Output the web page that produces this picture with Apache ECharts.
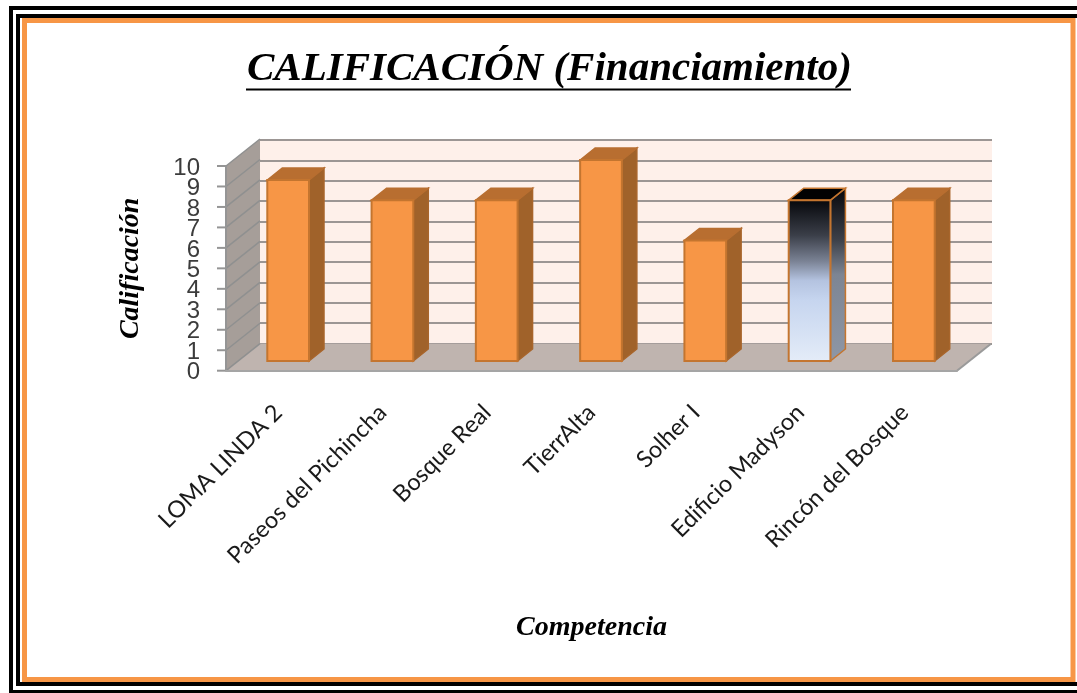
<!DOCTYPE html>
<html>
<head>
<meta charset="utf-8">
<style>html,body{margin:0;padding:0;background:#fff}#c{width:1077px;height:693px}</style>
<script src="https://cdn.jsdelivr.net/npm/echarts@6/dist/echarts.min.js"></script>
</head>
<body>
<div id="c"></div>
<script>
var categories = ['LOMA LINDA 2','Paseos del Pichincha','Bosque Real','TierrAlta','Solher I','Edificio Madyson','Rincón del Bosque'];
var scores = [9,8,8,10,6,8,8];
var yTicks = [0,1,2,3,4,5,6,7,8,9,10];
var highlighted = 'Edificio Madyson';
var titleText = 'CALIFICACIÓN (Financiamiento)';
var xName = 'Competencia';
var yName = 'Calificación';

var WALL_DX = 34, WALL_DY = 27, BAR_DX = 15, BAR_DY = 12, TICK = 9, LABEL_GAP = 26, LABEL_DY = 2;
var chart = echarts.init(document.getElementById('c'), null, {renderer:'canvas'});

function grad(stops){ return new echarts.graphic.LinearGradient(0,0,0,1,stops); }
function poly(points, fill, stroke, lw){
  return {type:'polygon', shape:{points:points},
    style:{fill:fill, stroke:stroke||null, lineWidth:lw||0}};
}
function line(x1,y1,x2,y2,color,w){
  return {type:'line', shape:{x1:x1,y1:y1,x2:x2,y2:y2}, style:{stroke:color,lineWidth:w,fill:null}};
}

function renderWalls(params, api){
  var r = params.coordSys;
  var l = r.x, b = r.y + r.height, t = r.y, e = r.x + r.width;
  var kids = [];
  kids.push(poly([[l,b],[l+WALL_DX,b-WALL_DY],[e+WALL_DX,b-WALL_DY],[e,b]], '#bfb4af'));
  kids.push(poly([[l,t],[l+WALL_DX,t-WALL_DY],[l+WALL_DX,b-WALL_DY],[l,b]], '#a69e99'));
  yTicks.forEach(function(v){
    var y = api.coord([0,v])[1];
    kids.push(line(l,y,l+WALL_DX,y-WALL_DY,'#8f9090',1.5));
    kids.push(line(l-TICK,y,l,y,'#959595',2));
    kids.push({type:'text', x:l-LABEL_GAP, y:y+LABEL_DY,
      style:{text:String(v), align:'right', verticalAlign:'middle',
             fontFamily:'Liberation Sans', fontSize:24, fill:'#3c3c3c'}});
  });
  kids.push(line(l,t,l,b,'#959595',2));
  kids.push(line(e,b,e+WALL_DX,b-WALL_DY,'#9a9a9a',2));
  return {type:'group', children:kids};
}

function renderBar(params, api){
  var c = api.value(0), v = api.value(1);
  var top = api.coord([c,v]), base = api.coord([c,0]);
  var w = api.size([1,0])[0]*0.4;
  var x0 = top[0]-w/2, x1 = top[0]+w/2, yT = top[1], yB = base[1];
  var isH = categories[c] === highlighted;
  var front = isH ? grad([{offset:0,color:'#05060a'},{offset:.22,color:'#3a3e48'},{offset:.38,color:'#7a8294'},{offset:.5,color:'#b4c3e0'},{offset:.62,color:'#c6d5ef'},{offset:1,color:'#e4ecf8'}]) : '#f79646';
  var side = isH ? grad([{offset:0,color:'#05060a'},{offset:.3,color:'#3c4049'},{offset:.5,color:'#7d8593'},{offset:1,color:'#8e97a6'}]) : '#a0622a';
  var cap = isH ? '#020202' : '#b86e30';
  var sideStroke = isH ? '#c4752f' : '#a8652b';
  return {type:'group', children:[
    poly([[x1,yT],[x1+BAR_DX,yT-BAR_DY],[x1+BAR_DX,yB-BAR_DY],[x1,yB]], side, sideStroke, 1.5),
    poly([[x0,yT],[x0+BAR_DX,yT-BAR_DY],[x1+BAR_DX,yT-BAR_DY],[x1,yT]], cap, isH?sideStroke:'#b86e30', 1.5),
    poly([[x0,yT],[x1,yT],[x1,yB],[x0,yB]], front, '#c4752f', 2)
  ]};
}

var frame = [
  {type:'rect', shape:{x:11,y:8,width:1075,height:684}, style:{fill:null,stroke:'#000',lineWidth:4}},
  {type:'rect', shape:{x:18,y:16,width:1068,height:668}, style:{fill:'#fff',stroke:'#000',lineWidth:4}},
  {type:'rect', shape:{x:24.5,y:20.5,width:1048.5,height:659}, style:{fill:null,stroke:'#f79646',lineWidth:5}},
  {type:'rect', shape:{x:246,y:88.5,width:605,height:2}, style:{fill:'#000'}, z:5}
];

chart.setOption({
  animation:false,
  backgroundColor:'#fff',
  graphic:{elements:frame.map(function(g){ g.z = g.z||-1; g.silent=true; return g; })},
  title:{text:titleText, left:247, top:49, padding:0, itemGap:0,
    textStyle:{fontFamily:'Liberation Serif',fontStyle:'italic',fontWeight:'bold',fontSize:41,color:'#000'}},
  grid:[
    {left:226,top:166,width:731,height:204.7},
    {left:260,top:140,width:732,height:203.5,show:true,backgroundColor:'#fef0ea',borderWidth:0},
    {left:236,top:160,width:730,height:201}
  ],
  xAxis:[
    {type:'category',gridIndex:0,data:categories,z:3,
     name:xName,nameLocation:'middle',nameGap:243,
     nameTextStyle:{fontFamily:'Liberation Serif',fontStyle:'italic',fontWeight:'bold',fontSize:28,color:'#000'},
     axisLine:{show:true,lineStyle:{color:'#a5a5a5',width:2}},axisTick:{show:false},splitLine:{show:false},
     axisLabel:{rotate:45,interval:0,margin:38,fontFamily:'Lato',fontSize:23.5,color:'#1a1a1a'}},
    {type:'category',gridIndex:1,data:categories,show:false},
    {type:'category',gridIndex:2,data:categories,show:false}
  ],
  yAxis:[
    {type:'value',gridIndex:0,min:0,max:10,interval:1,z:3,
     name:yName,nameLocation:'middle',nameGap:81,nameRotate:90,
     nameTextStyle:{fontFamily:'Liberation Serif',fontStyle:'italic',fontWeight:'bold',fontSize:28,color:'#000'},
     axisLine:{show:false},
     axisTick:{show:false},
     splitLine:{show:false},
     axisLabel:{show:false}},
    {type:'value',gridIndex:1,min:0,max:10,interval:1,
     axisLine:{show:false},axisTick:{show:false},axisLabel:{show:false},
     splitLine:{show:true,lineStyle:{color:'#9c9694',width:2}}},
    {type:'value',gridIndex:2,min:0,max:10,interval:1,show:false,splitLine:{show:false}}
  ],
  series:[
    {type:'custom',xAxisIndex:0,yAxisIndex:0,z:1,silent:true,clip:false,data:[[0,0]],renderItem:renderWalls},
    {type:'custom',xAxisIndex:2,yAxisIndex:2,z:5,silent:true,clip:false,
     encode:{x:0,y:1},
     data:scores.map(function(s,i){return [i,s];}),renderItem:renderBar}
  ]
});
</script>
</body>
</html>
